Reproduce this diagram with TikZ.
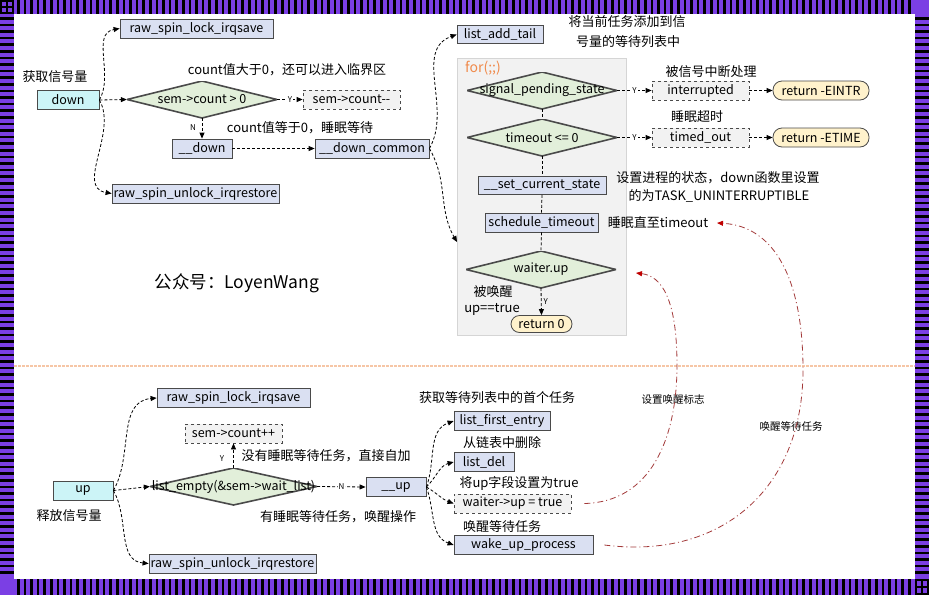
\documentclass[tikz,border=0pt]{standalone}
\usepackage{fontspec}
\setmainfont{Noto Sans CJK SC}
\usetikzlibrary{arrows.meta}
\definecolor{purp}{HTML}{7B3FE4}
\definecolor{bline}{HTML}{4A4A4A}
\definecolor{bblue}{HTML}{DAE0F2}
\definecolor{bcyan}{HTML}{CCF4F7}
\definecolor{bgray}{HTML}{F2F2F2}
\definecolor{byel}{HTML}{FFF2CC}
\definecolor{dgreen}{HTML}{E2EFDA}
\definecolor{loopg}{HTML}{F2F2F2}
\definecolor{loopb}{HTML}{D5D5D5}
\definecolor{forc}{HTML}{F08A4B}
\definecolor{redl}{HTML}{A33A3A}
\definecolor{redt}{HTML}{C00000}
\definecolor{sepc}{HTML}{F6C6A6}
\newcommand\bxf{\fontsize{12.5}{14}\selectfont}
\newcommand\lbf{\fontsize{13}{15}\selectfont}
\newcommand\smf{\fontsize{8}{9}\selectfont}
\newcommand\tnf{\fontsize{10.5}{12}\selectfont}
\begin{document}
\begin{tikzpicture}[x=1pt,y=-1pt,
  bx/.style={draw=bline, fill=bblue, line width=0.8pt, inner sep=0pt, minimum height=19pt, font=\bxf},
  cy/.style={bx, fill=bcyan},
  gb/.style={bx, fill=bgray, dashed},
  rt/.style={bx, fill=byel, rounded corners=9pt},
  dia/.style={inner sep=0pt, minimum width=150pt, minimum height=37pt, font=\bxf,
    path picture={\draw[fill=dgreen, draw=bline, line width=1.6pt]
      (path picture bounding box.west) -- (path picture bounding box.north) --
      (path picture bounding box.east) -- (path picture bounding box.south) -- cycle;}},
  lbl/.style={font=\lbf, inner sep=0pt},
  arr/.style={draw=black, line width=0.8pt, dash pattern=on 3pt off 2pt, -{Triangle[length=6pt,width=5pt]}},
  ln/.style={draw=black, line width=0.8pt, dash pattern=on 3pt off 2pt},
  yl/.style={midway, fill=white, inner sep=1pt, font=\smf},
  redarr/.style={draw=redl, line width=0.8pt, dash pattern=on 6pt off 3pt on 1pt off 3pt, -{Triangle[length=6pt,width=5pt,fill=redt,color=redt]}}
]
\useasboundingbox (0,0) rectangle (929,595);
% ---------- frame ----------
\fill[purp] (0,0) rectangle (929,595);
\fill[white] (14,14) rectangle (915,579);
\foreach \x in {17,23.6,...,911} {
  \fill[black] (\x,0) rectangle ++(2.6,14);
  \fill[black] (\x,579) rectangle ++(2.6,16);
}
\foreach \y in {17,23.6,...,576} {
  \fill[black] (0,\y) rectangle ++(14,2.6);
  \fill[black] (915,\y) rectangle ++(14,2.6);
}
\fill[black] (0,0) rectangle (14,14);
\fill[purp] (2,2) rectangle (6,6); \fill[purp] (8,2) rectangle (12,6);
\fill[purp] (2,8) rectangle (6,12); \fill[purp] (8,8) rectangle (12,12);
\fill[black] (915,579) rectangle (929,595);
\fill[purp] (917,581) rectangle (921,586); \fill[purp] (923,581) rectangle (927,586);
\fill[purp] (917,588) rectangle (921,593); \fill[purp] (923,588) rectangle (927,593);
% ---------- separator ----------
\draw[sepc, line width=1.3pt, dash pattern=on 2.5pt off 1.5pt] (14,366) -- (915,366);
% ---------- top part ----------
\node[draw=loopb, fill=loopg, minimum width=169pt, minimum height=277pt, inner sep=0pt] (loop) at (541.5,196.5) {};
\node[anchor=west, inner sep=0pt, font=\fontsize{14}{16}\selectfont, text=forc] (for) at (465,68) {for(;;)};

\node[cy, minimum width=62pt] (down) at (68,100) {down};
\node[bx, minimum width=153pt] (lock1) at (196.5,28.5) {raw\_spin\_lock\_irqsave};
\node[bx, minimum width=167pt] (unlock1) at (195.5,193.5) {raw\_spin\_unlock\_irqrestore};
\node[dia] (d1) at (202,99.5) {sem->count > 0};
\node[gb, minimum width=97pt] (dec) at (351.5,99.5) {sem->count{-}{-}};
\node[bx, minimum width=60pt] (dn) at (202,148.5) {\_\_down};
\node[bx, minimum width=114pt] (dnc) at (372,148.5) {\_\_down\_common};
\node[bx, minimum width=86pt, minimum height=18pt] (lat) at (500,34.5) {list\_add\_tail};
\node[dia] (sp) at (542,90.5) {signal\_pending\_state};
\node[dia] (to) at (542,137.5) {timeout <= 0};
\node[bx, minimum width=128pt, minimum height=18pt] (scs) at (542,185.5) {\_\_set\_current\_state};
\node[bx, minimum width=113pt] (sto) at (541.5,222.5) {schedule\_timeout};
\node[dia] (wu) at (541,269.5) {waiter.up};
\node[rt, minimum width=61pt, minimum height=17pt, rounded corners=8.5pt] (r0) at (541.5,324) {return 0};
\node[gb, minimum width=97pt] (intr) at (700.5,90.5) {interrupted};
\node[rt, minimum width=96pt] (rei) at (821,90.5) {return -EINTR};
\node[gb, minimum width=97pt] (tmo) at (700.5,137.5) {timed\_out};
\node[rt, minimum width=96pt] (ret) at (821,137.5) {return -ETIME};
\coordinate (loopin) at (457,242);

\node[lbl] (t1) at (55,77) {获取信号量};
\node[lbl] (t2) at (287,70) {count值大于0，还可以进入临界区};
\node[lbl] (t3) at (300,128) {count值等于0，睡眠等待};
\node[inner sep=0pt, font=\smf] (tn) at (193,128) {N};
\node[lbl] (t4) at (627,22) {将当前任务添加到信};
\node[lbl] (t5) at (628,42) {号量的等待列表中};
\node[lbl] (t6) at (711,72) {被信号中断处理};
\node[lbl] (t7) at (697,117) {睡眠超时};
\node[lbl] (t8) at (718,178) {设置进程的状态，down函数里设置};
\node[lbl] (t9) at (719,196) {的为TASK\_UNINTERRUPTIBLE};
\node[lbl] (t10) at (658,223) {睡眠直至timeout};
\node[lbl] (t11) at (493,292) {被唤醒};
\node[lbl] (t12) at (492,309) {up==true};
\node[inner sep=0pt, font=\fontsize{17.5}{20}\selectfont] (wm) at (237,283) {公众号：LoyenWang};

\draw[arr] (down.east) -- (d1.west);
\draw[arr] (down.east) to[out=60,in=190] (lock1.west);
\draw[arr] (down.east) to[out=-60,in=170] (unlock1.west);
\draw[arr] (d1.east) -- node[yl]{Y} (dec.west);
\draw[arr] (d1.south) -- (dn.north);
\draw[arr] (dn.east) -- (dnc.west);
\draw[arr] (dnc.east) to[out=60,in=200] (lat.west);
\draw[arr] (dnc.east) to[out=-60,in=120] (loopin);
\draw[ln] (sp.south) -- (to.north);
\draw[ln] (to.south) -- (scs.north);
\draw[ln] (scs.south) -- (sto.north);
\draw[ln] (sto.south) -- (wu.north);
\draw[arr] (wu.south) -- node[right, font=\smf, inner sep=2pt]{Y} (r0.north);
\draw[arr] (sp.east) -- node[yl]{Y} (intr.west);
\draw[arr] (intr.east) -- (rei.west);
\draw[arr] (to.east) -- node[yl]{Y} (tmo.west);
\draw[arr] (tmo.east) -- (ret.west);
% ---------- bottom part ----------
\node[cy, minimum width=60pt] (up) at (83,490.5) {up};
\node[bx, minimum width=153pt] (lock2) at (233.5,398) {raw\_spin\_lock\_irqsave};
\node[gb, minimum width=97pt] (inc) at (233.5,433.5) {sem->count++};
\node[dia, minimum width=167pt] (d2) at (233.5,486.5) {list\_empty(\&sem->wait\_list)};
\node[bx, minimum width=167pt] (unlock2) at (232.5,563.5) {raw\_spin\_unlock\_irqrestore};
\node[bx, minimum width=60pt] (uup) at (396,487) {\_\_up};
\node[bx, minimum width=96pt] (lfe) at (502,421) {list\_first\_entry};
\node[bx, minimum width=60pt] (ldel) at (484,462) {list\_del};
\node[gb, minimum width=117pt] (wup) at (512.5,503.5) {waiter->up = true};
\node[bx, minimum width=139pt] (wake) at (523.5,545) {wake\_up\_process};
\coordinate (wA) at (636,273);
\coordinate (wB) at (717,223);

\node[lbl] (b1) at (69,516) {释放信号量};
\node[inner sep=0pt, font=\smf] (by) at (222,459) {Y};
\node[lbl] (b2) at (326,456) {没有睡眠等待任务，直接自加};
\node[lbl] (b3) at (338,517) {有睡眠等待任务，唤醒操作};
\node[lbl] (b4) at (497,398) {获取等待列表中的首个任务};
\node[lbl] (b5) at (502,443) {从链表中删除};
\node[lbl] (b6) at (519,483) {将up字段设置为true};
\node[lbl] (b7) at (502,527) {唤醒等待任务};
\node[inner sep=0pt, font=\tnf] (b8) at (673,400) {设置唤醒标志};
\node[inner sep=0pt, font=\tnf] (b9) at (791,426) {唤醒等待任务};

\draw[arr] (up.east) -- (d2.west);
\draw[arr] (up.east) to[out=60,in=185] (lock2.west);
\draw[arr] (up.east) to[out=-60,in=175] (unlock2.west);
\draw[arr] (d2.north) -- (inc.south);
\draw[arr] (d2.east) -- node[yl]{N} (uup.west);
\draw[arr] (uup.east) to[out=70,in=200] (lfe.west);
\draw[arr] (uup.east) to[out=45,in=195] (ldel.west);
\draw[arr] (uup.east) to[out=-30,in=160] (wup.west);
\draw[arr] (uup.east) to[out=-70,in=160] (wake.west);

\draw[redarr] ([xshift=13pt]wup.east) .. controls (650,502) and (677,440) .. (677,365) .. controls (677,300) and (662,276) .. (wA);
\draw[redarr] ([xshift=11pt]wake.east) .. controls (720,560) and (803,490) .. (803,370) .. controls (803,280) and (775,226) .. (wB);
\end{tikzpicture}
\end{document}
